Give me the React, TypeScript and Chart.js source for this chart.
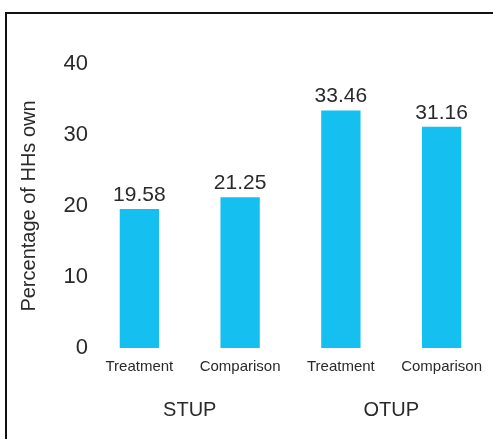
import React, { useEffect, useRef } from "react";
import { Chart, registerables } from "chart.js";

Chart.register(...registerables);

const categories = ["Treatment", "Comparison", "Treatment", "Comparison"];
const groups = ["STUP", "OTUP"];
const values = [19.58, 21.25, 33.46, 31.16];
const yTicks = [0, 10, 20, 30, 40];

const FONT = "'Liberation Sans', Arial, Helvetica, sans-serif";
const TEXT = "#2a2a2a";
const BAR = "#15BFEF";

const valueLabels = {
  id: "valueLabels",
  afterDatasetsDraw(chart: any) {
    const ctx = chart.ctx;
    const meta = chart.getDatasetMeta(0);
    ctx.save();
    ctx.font = `21px ${FONT}`;
    ctx.fillStyle = TEXT;
    ctx.textAlign = "center";
    ctx.textBaseline = "alphabetic";
    meta.data.forEach((bar: any, i: number) => {
      const v = chart.data.datasets[0].data[i];
      ctx.fillText(Number(v).toFixed(2), bar.x, bar.y - 8);
    });
    ctx.restore();
  },
};

export default function App() {
  const ref = useRef<HTMLCanvasElement>(null);
  useEffect(() => {
    if (!ref.current) return;
    const chart = new Chart(ref.current, {
      type: "bar",
      data: {
        labels: categories,
        datasets: [
          {
            data: values,
            backgroundColor: BAR,
            borderWidth: 0,
            categoryPercentage: 1,
            barPercentage: 0.39,
            xAxisID: "x",
            yAxisID: "y",
          },
        ],
      },
      options: {
        responsive: false,
        animation: false,
        layout: { padding: { top: 64, right: 1, left: 0, bottom: 0 } },
        plugins: {
          legend: { display: false },
          tooltip: { enabled: false },
          title: { display: false },
        },
        scales: {
          x: {
            type: "category",
            position: "bottom",
            offset: true,
            grid: { display: false, drawTicks: false },
            border: { display: false },
            ticks: {
              font: { family: FONT, size: 15 },
              color: TEXT,
              padding: 10,
              maxRotation: 0,
              autoSkip: false,
            },
            afterFit: (s: any) => {
              s.height = 37;
            },
          },
          x2: {
            type: "category",
            position: "bottom",
            labels: groups,
            offset: true,
            grid: { display: false, drawTicks: false },
            border: { display: false },
            ticks: {
              font: { family: FONT, size: 20 },
              color: TEXT,
              padding: 13,
              maxRotation: 0,
              autoSkip: false,
            },
            afterFit: (s: any) => {
              s.height = 54;
            },
          },
          y: {
            type: "linear",
            min: 0,
            max: 40,
            grid: { display: false, drawTicks: false },
            border: { display: false },
            afterBuildTicks: (s: any) => {
              s.ticks = yTicks.map((v) => ({ value: v }));
            },
            ticks: {
              font: { family: FONT, size: 22 },
              color: TEXT,
              padding: 1,
            },
            title: {
              display: true,
              text: "Percentage of HHs own",
              font: { family: FONT, size: 20 },
              color: TEXT,
              padding: { top: 17, bottom: 0 },
            },
            afterFit: (s: any) => {
              s.width = 89;
            },
          },
        },
      },
      plugins: [valueLabels],
    });
    return () => chart.destroy();
  }, []);

  return (
    <div
      style={{
        position: "fixed",
        left: 0,
        top: 0,
        width: 493,
        height: 439,
        overflow: "hidden",
        background: "#ffffff",
      }}
    >
      <div
        style={{
          position: "absolute",
          left: 5,
          top: 12,
          width: 600,
          height: 600,
          border: "2px solid #111111",
          boxSizing: "border-box",
        }}
      />
      <canvas
        ref={ref}
        width={493}
        height={439}
        style={{ position: "absolute", left: 0, top: 0, display: "block" }}
      />
    </div>
  );
}
